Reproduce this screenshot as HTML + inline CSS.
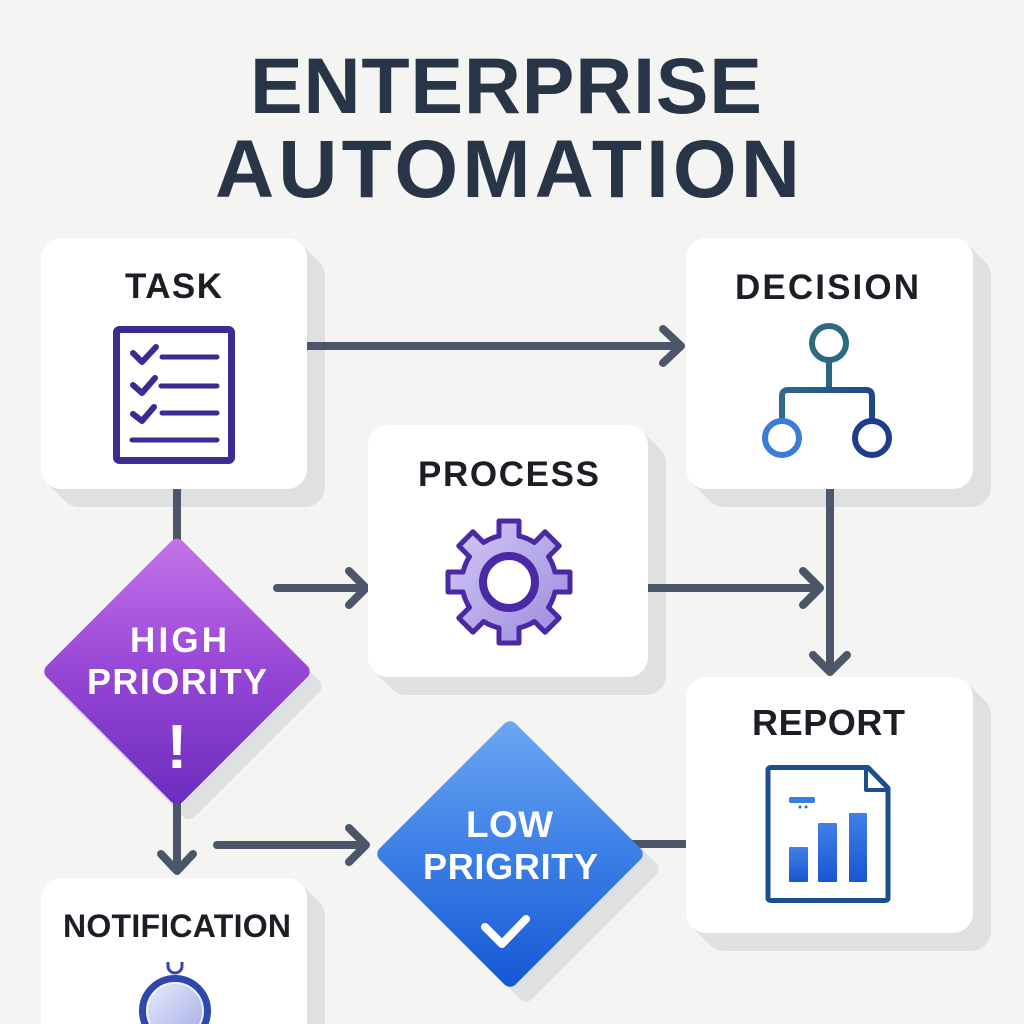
<!DOCTYPE html>
<html><head><meta charset="utf-8"><style>
html,body{margin:0;padding:0;background:#f4f4f2;}
svg{display:block;}
text{font-family:"Liberation Sans",sans-serif;font-weight:700;}
</style></head><body>
<svg width="1024" height="1024" viewBox="0 0 1024 1024" xmlns="http://www.w3.org/2000/svg">
<defs>
<linearGradient id="hi" gradientUnits="userSpaceOnUse" x1="177" y1="535" x2="177" y2="808">
<stop offset="0" stop-color="#c574e9"/><stop offset="0.5" stop-color="#9646d5"/><stop offset="1" stop-color="#6a2cbe"/></linearGradient>
<linearGradient id="lo" gradientUnits="userSpaceOnUse" x1="510" y1="720" x2="510" y2="988">
<stop offset="0" stop-color="#6ca8f3"/><stop offset="0.5" stop-color="#3c7fe6"/><stop offset="1" stop-color="#1457d4"/></linearGradient>
<linearGradient id="gear" x1="0" y1="0" x2="1" y2="1">
<stop offset="0" stop-color="#d3cbf4"/><stop offset="1" stop-color="#9a8ade"/></linearGradient>
<linearGradient id="notif" x1="0" y1="0" x2="1" y2="1">
<stop offset="0" stop-color="#eceefc"/><stop offset="1" stop-color="#9fa9e4"/></linearGradient>
<linearGradient id="bar" x1="0" y1="0" x2="0" y2="1">
<stop offset="0" stop-color="#3f80ea"/><stop offset="1" stop-color="#1a55d0"/></linearGradient>
<linearGradient id="hline" gradientUnits="userSpaceOnUse" x1="782" y1="0" x2="872" y2="0">
<stop offset="0" stop-color="#2f6a8a"/><stop offset="1" stop-color="#1f4788"/></linearGradient>
</defs>
<rect width="1024" height="1024" fill="#f4f4f2"/>

<!-- title -->
<text x="506" y="113" font-size="79" text-anchor="middle" fill="#283546" textLength="512" lengthAdjust="spacing">ENTERPRISE</text>
<text x="507.5" y="197" font-size="82" text-anchor="middle" fill="#283546" textLength="585" lengthAdjust="spacing">AUTOMATION</text>

<!-- box extrusion shadows -->
<g fill="#dfe0e2">
<rect x="59" y="256" width="266" height="251" rx="20"/>
<polygon points="301.14,243.86 319.14,261.86 64.86,501.14 46.86,483.14"/>
<rect x="704" y="256" width="287" height="251" rx="20"/>
<polygon points="967.14,243.86 985.14,261.86 709.86,501.14 691.86,483.14"/>
<rect x="386" y="443" width="280" height="252" rx="20"/>
<polygon points="642.14,430.86 660.14,448.86 391.86,689.14 373.86,671.14"/>
<rect x="704" y="695" width="287" height="256" rx="20"/>
<polygon points="967.14,682.86 985.14,700.86 709.86,945.14 691.86,927.14"/>
<rect x="59" y="896" width="266" height="170" rx="20"/>
<polygon points="301.14,883.86 319.14,901.86 64.86,1060.14 46.86,1042.14"/>
</g>
<!-- diamond shadows -->
<g fill="#dfe0e2" stroke="#dfe0e2" stroke-width="16" stroke-linejoin="round">
<polygon points="189,561.8 313.7,686.5 189,811.2 64.3,686.5"/>
<polygon points="526,744.3 650.7,869 526,993.7 401.3,869"/>
</g>

<!-- connectors -->
<g stroke="#4b5769" stroke-width="8" stroke-linecap="round" stroke-linejoin="round" fill="none">
<path d="M307,346 H679"/><path d="M663,329 L681,346 L663,363"/>
<path d="M177,480 V545" stroke-linecap="butt"/>
<path d="M277,588 H364"/><path d="M349,571 L366,588 L349,605"/>
<path d="M640,588 H818"/><path d="M803,571 L820,588 L803,605"/>
<path d="M830,480 V670"/><path d="M813,655 L830,672 L847,655"/>
<path d="M177,795 V869"/><path d="M161,854 L177,871 L193,854"/>
<path d="M217,845 H364"/><path d="M349,828 L366,845 L349,862"/>
<path d="M610,844 H695" stroke-linecap="butt"/>
</g>

<!-- boxes -->
<g fill="#ffffff">
<rect x="41" y="238" width="266" height="251" rx="20"/>
<rect x="686" y="238" width="287" height="251" rx="20"/>
<rect x="368" y="425" width="280" height="252" rx="20"/>
<rect x="686" y="677" width="287" height="256" rx="20"/>
<rect x="41" y="878" width="266" height="170" rx="20"/>
</g>

<!-- diamonds -->
<polygon points="177,546.8 301.7,671.5 177,796.2 52.3,671.5" fill="url(#hi)" stroke="url(#hi)" stroke-width="16" stroke-linejoin="round"/>
<polygon points="510,729.3 634.7,854 510,978.7 385.3,854" fill="url(#lo)" stroke="url(#lo)" stroke-width="16" stroke-linejoin="round"/>

<!-- task icon -->
<g stroke="#3e2a92" fill="none" stroke-linecap="round" stroke-linejoin="round">
<rect x="116.5" y="329.5" width="115" height="131" rx="3" stroke-width="7"/>
<path d="M133,353 L142,362 L156,347" stroke-width="6"/>
<path d="M133,385 L142,393 L155,378" stroke-width="6"/>
<path d="M133,414 L142,421 L154,407" stroke-width="6"/>
<path d="M162,357 H217 M161,386 H217 M162,413 H217 M132,440 H217" stroke-width="5"/>
</g>

<!-- decision icon -->
<g fill="none" stroke-width="6" stroke-linecap="round" stroke-linejoin="round">
<circle cx="829" cy="343" r="17" stroke="#2e6b80"/>
<path d="M829,360 V390" stroke="#2d6585"/>
<path d="M782,418 V396 Q782,390 788,390 H866 Q872,390 872,396 V418" stroke="url(#hline)"/>
<circle cx="782" cy="438" r="17" stroke="#3a7cd8"/>
<circle cx="872" cy="438" r="17" stroke="#1f3d8f"/>
</g>

<!-- gear -->
<path d="M499,536.1 L499,521 L519,521 L519,536.1 A47,47 0 0 1 534.39,542.47 L545.06,531.8 L559.2,545.94 L548.53,556.61 A47,47 0 0 1 554.9,572 L570,572 L570,592 L554.9,592 A47,47 0 0 1 548.53,607.39 L559.2,618.06 L545.06,632.2 L534.39,621.53 A47,47 0 0 1 519,627.9 L519,643 L499,643 L499,627.9 A47,47 0 0 1 483.61,621.53 L472.94,632.2 L458.8,618.06 L469.47,607.39 A47,47 0 0 1 463.1,592 L448,592 L448,572 L463.1,572 A47,47 0 0 1 469.47,556.61 L458.8,545.94 L472.94,531.8 L483.61,542.47 A47,47 0 0 1 499,536.1 Z" fill="url(#gear)" stroke="#4a2aa4" stroke-width="5" stroke-linejoin="round"/>
<circle cx="509" cy="582" r="26" fill="#ffffff" stroke="#4a2aa4" stroke-width="8"/>

<!-- report icon -->
<path d="M768,770 Q768,767.5 771,767.5 H868 L888,788 V898 Q888,900.5 885,900.5 H771 Q768,900.5 768,898 Z" fill="#ffffff" stroke="#1d4f8c" stroke-width="5" stroke-linejoin="round"/>
<path d="M866,769 V790 H887" fill="none" stroke="#1d4f8c" stroke-width="4" stroke-linejoin="round"/>
<rect x="789" y="847" width="19" height="35" fill="url(#bar)" rx="1"/>
<rect x="818" y="823" width="19" height="59" fill="url(#bar)" rx="1"/>
<rect x="849" y="813" width="18" height="69" fill="url(#bar)" rx="1"/>
<rect x="789" y="797" width="26" height="6" rx="2" fill="#3b7be8"/>
<circle cx="800" cy="807" r="1.5" fill="#3b6fb8"/><circle cx="806" cy="807" r="1.5" fill="#3b6fb8"/>

<!-- notification icon -->
<path d="M168,962 V966 A7,7 0 0 0 182,966 V962" fill="none" stroke="#2f48b0" stroke-width="3"/>
<circle cx="175" cy="1011" r="32.5" fill="url(#notif)" stroke="#2f48b0" stroke-width="7"/>
<circle cx="175" cy="1011" r="28" fill="none" stroke="#ffffff" stroke-width="2" opacity="0.7"/>

<!-- low priority check -->
<path d="M485,927 L502,944 L526,919" fill="none" stroke="#ffffff" stroke-width="8" stroke-linecap="round" stroke-linejoin="round"/>

<!-- labels -->
<g fill="#1d1d26" text-anchor="middle">
<text x="173.5" y="298" font-size="35" textLength="97" lengthAdjust="spacing">TASK</text>
<text x="827" y="299" font-size="35" textLength="184" lengthAdjust="spacing">DECISION</text>
<text x="508.5" y="486" font-size="35" textLength="181" lengthAdjust="spacing">PROCESS</text>
<text x="828.5" y="735" font-size="36" textLength="153" lengthAdjust="spacing">REPORT</text>
<text x="177" y="937" font-size="32" textLength="228" lengthAdjust="spacing">NOTIFICATION</text>
</g>
<g fill="#ffffff" text-anchor="middle">
<text x="178.5" y="652" font-size="35" textLength="97" lengthAdjust="spacing">HIGH</text>
<text x="177" y="694" font-size="36" textLength="180" lengthAdjust="spacing">PRIORITY</text>
<text x="177" y="768" font-size="62" font-weight="400">!</text>
<text x="509.5" y="837" font-size="37" textLength="87" lengthAdjust="spacing">LOW</text>
<text x="510.5" y="879" font-size="36" textLength="175" lengthAdjust="spacing">PRIGRITY</text>
</g>
</svg>
</body></html>
